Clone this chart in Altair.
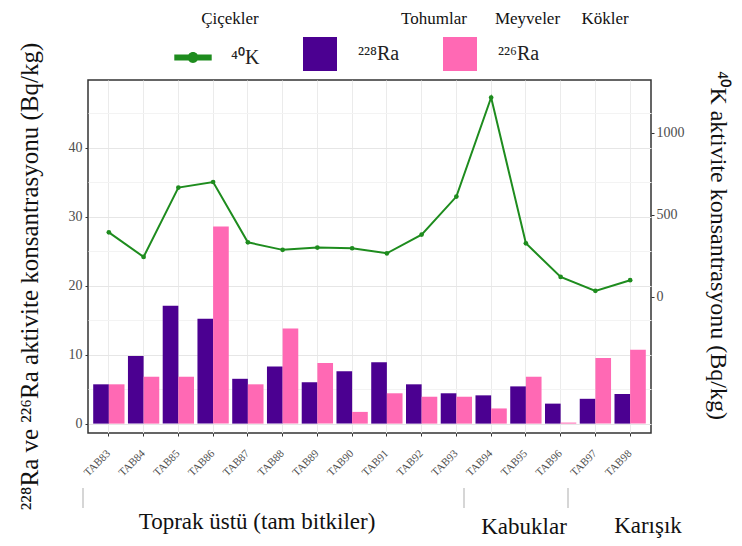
import altair as alt
import pandas as pd

# ---------------- data ----------------
samples = ["TAB83", "TAB84", "TAB85", "TAB86", "TAB87", "TAB88", "TAB89", "TAB90",
           "TAB91", "TAB92", "TAB93", "TAB94", "TAB95", "TAB96", "TAB97", "TAB98"]
ra228 = [5.7, 9.8, 17.1, 15.2, 6.5, 8.3, 6.0, 7.6, 8.9, 5.7, 4.4, 4.1, 5.4, 2.9, 3.6, 4.3]
ra226 = [5.7, 6.8, 6.8, 28.6, 5.7, 13.8, 8.8, 1.7, 4.4, 3.9, 3.9, 2.2, 6.8, 0.15, 9.5, 10.7]
k40 = [394, 244, 667, 701, 333, 287, 301, 297, 266, 380, 612, 1216, 327, 122, 37, 102]

K_NAME = "⁴⁰K"
RA228_NAME = "²²⁸Ra"
RA226_NAME = "²²⁶Ra"
series_names = [K_NAME, RA228_NAME, RA226_NAME]

top_labels = ["Çiçekler", "Tohumlar", "Meyveler", "Kökler"]
group_labels = ["Toprak üstü (tam bitkiler)", "Kabuklar", "Karışık"]

LEFT_TITLE = "²²⁸Ra ve ²²⁶Ra aktivite konsantrasyonu (Bq/kg)"
RIGHT_TITLE = "⁴⁰K aktivite konsantrasyonu (Bq/kg)"

bar_df = pd.DataFrame({
    "sample": samples * 2,
    "series": [RA228_NAME] * len(samples) + [RA226_NAME] * len(samples),
    "value": ra228 + ra226,
})
k_df = pd.DataFrame({"sample": samples, "k": k40})
label_df = pd.DataFrame({"sample": samples})
legend_df = pd.DataFrame({"series": series_names,
                          "sample": [samples[0]] * 3,
                          "value": [0, 0, 0]})

# ---------------- styles ----------------
SERIF = "Liberation Serif"
GREEN = "#1E8C1E"
PURPLE = "#4B0091"
PINK = "#FF69B4"
TICK_GRAY = "#4d4d4d"

line_symbol = ("M-1.1,-0.17H1.1V0.17H-1.1Z "
               "M-0.32,0A0.32,0.32 0 1,1 0.32,0A0.32,0.32 0 1,1 -0.32,0Z")

x_scale = alt.Scale(domain=samples, paddingInner=0, paddingOuter=0.1)
x_axis = alt.Axis(title=None, labels=False, tickSize=3,
                  tickColor="#333333", grid=True, gridColor="#ebebeb", bandPosition=0.5,
                  domain=False)

legend = alt.Legend(title=None, orient="none", legendX=88, legendY=-43,
                    direction="horizontal", symbolSize=1156, symbolStrokeWidth=0,
                    symbolOpacity=1, labelFont=SERIF, labelFontSize=20, labelColor="#222222",
                    labelOffset=21, columnPadding=43, padding=0)

color = alt.Color("series:N",
                  scale=alt.Scale(domain=series_names, range=[GREEN, PURPLE, PINK]),
                  legend=legend)

is10 = "datum.value % 10 === 0"
y_left = alt.Y(
    "value:Q",
    scale=alt.Scale(domain=[-1.36, 49.83], nice=False, zero=False),
    axis=alt.Axis(orient="left", values=list(range(0, 50, 5)),
                  labelExpr=is10 + " ? datum.label : ''",
                  title=LEFT_TITLE, titleFont=SERIF, titleFontSize=25, titleFontWeight="normal",
                  titleColor="#111111", titleAngle=270, titleAlign="center",
                  titleBaseline="alphabetic", titleX=-51, titleY=196,
                  labelFontSize=14, labelColor=TICK_GRAY, labelPadding=3, tickSize=3,
                  tickColor="#333333",
                  tickOpacity={"condition": {"test": is10, "value": 1}, "value": 0},
                  gridColor={"condition": {"test": is10, "value": "#e6e6e6"}, "value": "#f3f3f3"},
                  domain=False),
)
y_right = alt.Y(
    "k:Q",
    scale=alt.Scale(domain=[-830, 1323], nice=False, zero=False),
    axis=alt.Axis(orient="right", values=[0, 500, 1000], format="d", grid=False,
                  title=RIGHT_TITLE, titleFont=SERIF, titleFontSize=24, titleFontWeight="normal",
                  titleColor="#111111", titleAngle=90, titleAlign="center",
                  titleBaseline="alphabetic", titleX=59, titleY=165,
                  labelFontSize=14, labelColor=TICK_GRAY, labelPadding=2, tickSize=3,
                  tickColor="#333333", domain=False),
)

x_enc = alt.X("sample:N", scale=x_scale, axis=x_axis)

bars = alt.Chart(bar_df).mark_bar(strokeWidth=0).encode(
    x=x_enc,
    xOffset=alt.XOffset("series:N",
                        scale=alt.Scale(domain=[RA228_NAME, RA226_NAME],
                                        paddingInner=0, paddingOuter=0.11)),
    y=y_left,
    y2=alt.datum(0),
    color=color,
)

legend_pts = alt.Chart(legend_df).mark_point(filled=True, opacity=0, size=1).encode(
    x=x_enc,
    y=y_left,
    color=color,
    shape=alt.Shape("series:N",
                    scale=alt.Scale(domain=series_names,
                                    range=[line_symbol, "square", "square"]),
                    legend=legend),
)

k_line = alt.Chart(k_df).mark_line(color=GREEN, strokeWidth=2).encode(x=x_enc, y=y_right)
k_pts = alt.Chart(k_df).mark_circle(color=GREEN, size=22, opacity=1).encode(x=x_enc, y=y_right)

# rotated category labels, positioned by the shared x scale
x_labels = alt.Chart(label_df).mark_text(
    angle=315, align="right", baseline="middle", font=SERIF, fontSize=11, color=TICK_GRAY
).encode(x=x_enc, y=alt.value(372), text="sample:N")


def note(label, x, y, size):
    return alt.Chart(alt.Data(values=[{}])).mark_text(
        text=label, font=SERIF, fontSize=size, color="#111111",
        align="center", baseline="alphabetic"
    ).encode(x=alt.value(x), y=alt.value(y))


def separator(x):
    return alt.Chart(alt.Data(values=[{}])).mark_rule(
        color="#c8c8c8", strokeWidth=1.5
    ).encode(x=alt.value(x), y=alt.value(408), y2=alt.value(428))


annots = [
    x_labels,
    note(top_labels[0], 142, -56, 17),
    note(top_labels[1], 346, -56, 17),
    note(top_labels[2], 439.5, -56, 17),
    note(top_labels[3], 517, -56, 17),
    note(group_labels[0], 169, 449, 23),
    note(group_labels[1], 436, 454, 23),
    note(group_labels[2], 560, 453, 23),
    separator(-5),
    separator(376),
    separator(480),
]

chart = alt.layer(
    alt.layer(bars, legend_pts),
    alt.layer(k_line, k_pts),
    *annots,
).resolve_scale(y="independent").properties(
    width=563, height=353,
    autosize=alt.AutoSizeParams(type="none"),
    padding={"left": 80, "top": 72, "right": 83, "bottom": 105},
).configure_view(
    stroke="#333333", strokeWidth=1.5
).configure_axis(
    labelFont=SERIF, titleFont=SERIF
)

chart.save("out.html", embed_options={"renderer": "svg", "actions": False})
